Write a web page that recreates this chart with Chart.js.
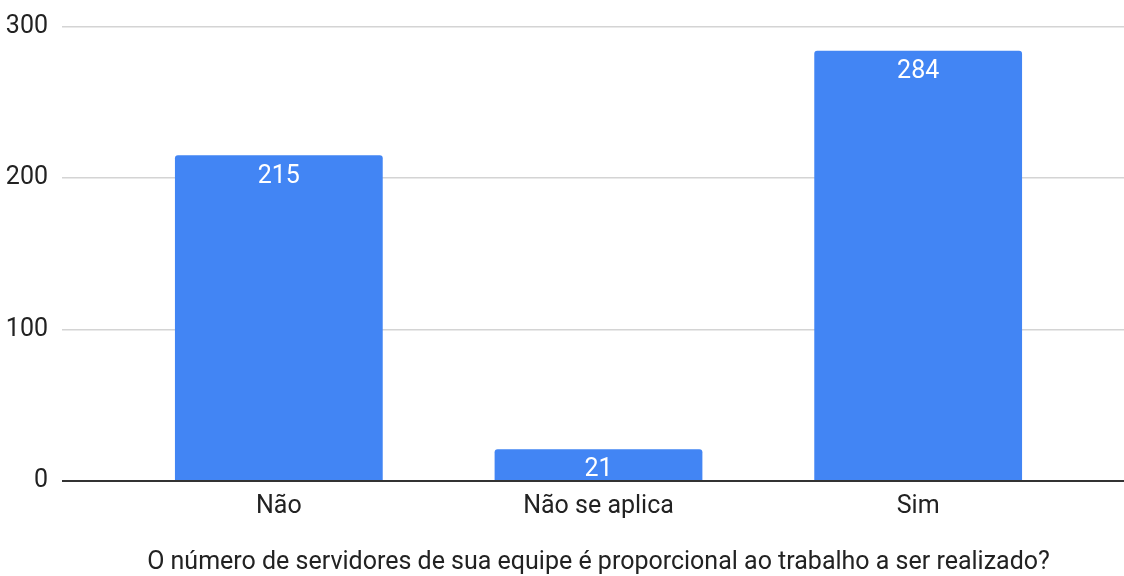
<!DOCTYPE html>
<html lang="pt">
<head>
  <meta charset="UTF-8" />
  <title>Servidores por equipe</title>
  <script src="https://cdn.jsdelivr.net/npm/chart.js"></script>
  <style>
    html, body { margin: 0; padding: 0; background: #fff; }
    .wrap { width: 1124px; height: 576px; }
  </style>
</head>
<body>
  <div class="wrap"><canvas id="chart"></canvas></div>

  <script>
    const categories = ["Não", "Não se aplica", "Sim"];
    const counts = [215, 21, 284];
    const yTicks = [0, 100, 200, 300];
    const xTitle = "O número de servidores de sua equipe é proporcional ao trabalho a ser realizado?";

    const FONT = "Roboto";
    const FSIZE = 25;
    const gridColor = c => (c.tick && c.tick.value === 0) ? "#333333" : "#d4d4d4";
    const gridWidth = c => (c.tick && c.tick.value === 0) ? 2 : 1.5;

    // white value labels drawn just inside the top of each bar
    const barLabels = {
      id: "barLabels",
      afterDatasetsDraw(chart) {
        const ctx = chart.ctx;
        const meta = chart.getDatasetMeta(0);
        ctx.save();
        ctx.fillStyle = "#ffffff";
        ctx.font = FSIZE + "px " + FONT;
        ctx.textAlign = "center";
        ctx.textBaseline = "middle";
        meta.data.forEach((bar, i) => {
          ctx.fillText(String(counts[i]), bar.x, bar.y + 21);
        });
        ctx.restore();
      }
    };

    new Chart(document.getElementById("chart"), {
      type: "bar",
      data: {
        labels: categories,
        datasets: [{
          data: counts,
          backgroundColor: "#4285f4",
          borderRadius: { topLeft: 3, topRight: 3 },
          borderSkipped: "bottom",
          categoryPercentage: 1,
          barPercentage: 0.65,
          yAxisID: "y"
        }]
      },
      options: {
        responsive: true,
        maintainAspectRatio: false,
        animation: false,
        layout: { padding: { top: 24, left: 0, right: 0, bottom: 0 } },
        plugins: {
          legend: { display: false },
          tooltip: { enabled: false }
        },
        scales: {
          x: {
            grid: { display: false },
            border: { display: false },
            ticks: { color: "#222", font: { family: FONT, size: FSIZE }, padding: 3 },
            title: {
              display: true,
              text: xTitle,
              color: "#222",
              font: { family: FONT, size: FSIZE, lineHeight: 1.1 },
              padding: { top: 0, bottom: 0 }
            },
            afterFit(s) { s.height = 95; }
          },
          y: {
            position: "left",
            min: 0,
            max: 300,
            afterBuildTicks(s) { s.ticks = yTicks.map(v => ({ value: v })); },
            grid: { color: gridColor, lineWidth: gridWidth, tickLength: 57, tickColor: gridColor, tickWidth: gridWidth },
            border: { display: false },
            ticks: { color: "#222", font: { family: FONT, size: FSIZE, lineHeight: 1 }, padding: 14 },
            afterFit(s) { s.width = 119; }
          },
          y2: {
            position: "right",
            min: 0,
            max: 300,
            afterBuildTicks(s) { s.ticks = yTicks.map(v => ({ value: v })); },
            grid: { drawOnChartArea: false, color: gridColor, lineWidth: gridWidth, tickLength: 46, tickColor: gridColor, tickWidth: gridWidth },
            border: { display: false },
            ticks: { display: false },
            afterFit(s) { s.width = 46; }
          }
        }
      },
      plugins: [barLabels]
    });
  </script>
</body>
</html>
